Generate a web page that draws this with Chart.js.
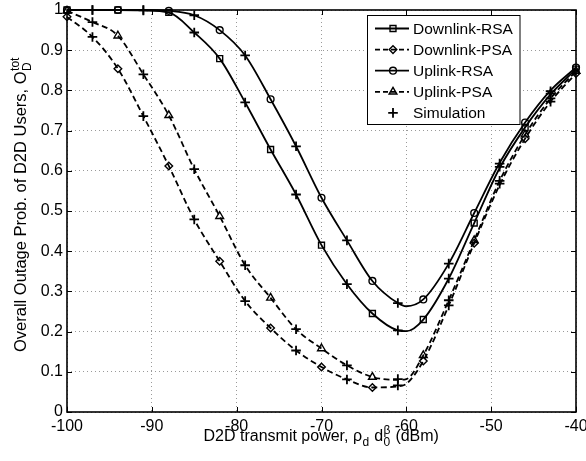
<!DOCTYPE html>
<html>
<head>
<meta charset="utf-8">
<script src="https://cdn.jsdelivr.net/npm/chart.js@4/dist/chart.umd.min.js"></script>
<style>
  html, body { margin: 0; padding: 0; background: #fff; }
  #wrap { width: 586px; height: 461px; }
</style>
</head>
<body>
<div id="wrap"><canvas id="chart_one" width="586" height="461"></canvas></div>
<script>
// transmit power grid of the analytical curves (dBm)
const powerGrid = [-100, -97, -94, -91, -88, -85, -82, -79, -76, -73, -70, -67, -64, -61, -60, -58, -55, -52, -49, -46, -43, -40];
const downlinkRSA = [1.000, 1.000, 1.000, 0.999, 0.994, 0.944, 0.879, 0.770, 0.653, 0.541, 0.415, 0.318, 0.245, 0.203, 0.201, 0.230, 0.332, 0.470, 0.607, 0.708, 0.790, 0.853];
const downlinkPSA = [0.983, 0.933, 0.854, 0.736, 0.612, 0.479, 0.375, 0.276, 0.209, 0.153, 0.112, 0.081, 0.061, 0.064, 0.070, 0.127, 0.265, 0.420, 0.565, 0.680, 0.772, 0.842];
const uplinkRSA = [1.000, 1.000, 1.000, 1.000, 0.998, 0.987, 0.950, 0.887, 0.778, 0.661, 0.533, 0.427, 0.326, 0.271, 0.263, 0.280, 0.369, 0.495, 0.620, 0.720, 0.800, 0.857];
const uplinkPSA = [0.998, 0.970, 0.936, 0.840, 0.738, 0.604, 0.487, 0.365, 0.284, 0.206, 0.158, 0.116, 0.087, 0.080, 0.082, 0.141, 0.278, 0.427, 0.575, 0.690, 0.780, 0.848];

// simulation points
const simPower = [-97, -91, -85, -79, -73, -67, -61, -55, -49, -43];
const simDownlinkRSA = [1.000, 0.999, 0.944, 0.770, 0.541, 0.318, 0.203, 0.332, 0.610, 0.792];
const simDownlinkPSA = [0.933, 0.736, 0.479, 0.276, 0.153, 0.081, 0.066, 0.265, 0.568, 0.772];
const simUplinkRSA = [1.000, 1.000, 0.987, 0.887, 0.661, 0.427, 0.271, 0.369, 0.618, 0.798];
const simUplinkPSA = [0.970, 0.840, 0.604, 0.365, 0.206, 0.116, 0.082, 0.278, 0.575, 0.780];

const xTicks = [-100, -90, -80, -70, -60, -50, -40];
const yTicks = [0, 0.1, 0.2, 0.3, 0.4, 0.5, 0.6, 0.7, 0.8, 0.9, 1];

const FONT = '"Liberation Sans", Arial, Helvetica, sans-serif';
const DASH = [6, 3.5];

function pts(xs, ys) {
  return xs.map((x, i) => ({ x: x, y: ys[i] }));
}
// markers only every 6 dB on the analytical curves
function markerRadius(r) {
  return powerGrid.map(p => ((p + 100) % 6 === 0 ? r : 0));
}

function curve(label, values, style, radius, dashed) {
  return {
    label: label,
    data: pts(powerGrid, values),
    borderColor: '#000',
    borderWidth: 1.8,
    borderDash: dashed ? DASH : [],
    cubicInterpolationMode: 'monotone',
    pointStyle: style,
    pointRadius: markerRadius(radius),
    pointBorderWidth: 1.4,
    pointBorderColor: '#000',
    pointBackgroundColor: 'rgba(0,0,0,0)',
    clip: false,
    fill: false
  };
}
function sim(values) {
  return {
    label: 'Simulation',
    data: pts(simPower, values),
    showLine: false,
    pointStyle: 'cross',
    pointRadius: 4.8,
    pointBorderWidth: 1.8,
    pointBorderColor: '#000',
    clip: false
  };
}

// black box + inward ticks on all four sides
const framePlugin = {
  id: 'frame',
  beforeDatasetsDraw(chart) {
    const { ctx, chartArea: a, scales } = chart;
    ctx.save();
    ctx.strokeStyle = '#000';
    ctx.lineWidth = 1.6;
    ctx.strokeRect(a.left, a.top, a.right - a.left, a.bottom - a.top);
    ctx.lineWidth = 1;
    ctx.beginPath();
    xTicks.forEach(v => {
      const px = Math.round(scales.x.getPixelForValue(v)) + 0.5;
      ctx.moveTo(px, a.bottom); ctx.lineTo(px, a.bottom - 5);
      ctx.moveTo(px, a.top); ctx.lineTo(px, a.top + 5);
    });
    yTicks.forEach(v => {
      const py = Math.round(scales.y.getPixelForValue(v)) + 0.5;
      ctx.moveTo(a.left, py); ctx.lineTo(a.left + 5, py);
      ctx.moveTo(a.right, py); ctx.lineTo(a.right - 5, py);
    });
    ctx.stroke();
    ctx.restore();
  }
};

// text with sub / superscripts
function drawRich(ctx, parts, x, baseline, size) {
  ctx.textAlign = 'left';
  ctx.textBaseline = 'alphabetic';
  const small = Math.round(size * 0.72);
  parts.forEach(p => {
    ctx.font = size + 'px ' + FONT;
    ctx.fillText(p.text, x, baseline);
    x += ctx.measureText(p.text).width + 0.5;
    ctx.font = small + 'px ' + FONT;
    let adv = 0;
    if (p.sup) { ctx.fillText(p.sup, x, baseline - 7); adv = ctx.measureText(p.sup).width; }
    if (p.sub) { ctx.fillText(p.sub, x, baseline + 5); adv = Math.max(adv, ctx.measureText(p.sub).width); }
    x += adv + (p.sub || p.sup ? 0.5 : 0);
  });
  return x;
}
function richWidth(ctx, parts, size) {
  ctx.save();
  ctx.globalAlpha = 0;
  const w = drawRich(ctx, parts, 0, -100, size);
  ctx.restore();
  return w;
}

const xTitle = [
  { text: 'D2D transmit power, ρ', sub: 'd' },
  { text: ' d', sup: 'β', sub: '0' },
  { text: ' (dBm)' }
];
const yTitle = [{ text: 'Overall Outage Prob. of D2D Users, O', sub: 'D', sup: 'tot' }];

const titlePlugin = {
  id: 'titles',
  afterDraw(chart) {
    const { ctx, chartArea: a } = chart;
    ctx.save();
    ctx.fillStyle = '#000';
    const w = richWidth(ctx, xTitle, 16);
    drawRich(ctx, xTitle, (a.left + a.right) / 2 - w / 2, 441, 16);
    ctx.translate(26, 352);
    ctx.rotate(-Math.PI / 2);
    drawRich(ctx, yTitle, 0, 0, 16.5);
    ctx.restore();
  }
};

function marker(ctx, style, x, y, r) {
  ctx.beginPath();
  if (style === 'rect') {
    const s = r / Math.SQRT2;
    ctx.rect(x - s, y - s, 2 * s, 2 * s);
  } else if (style === 'rectRot') {
    ctx.moveTo(x, y - r); ctx.lineTo(x + r, y); ctx.lineTo(x, y + r); ctx.lineTo(x - r, y); ctx.closePath();
  } else if (style === 'circle') {
    ctx.arc(x, y, r, 0, Math.PI * 2);
  } else if (style === 'triangle') {
    const s = r * Math.sqrt(3) / 2;
    ctx.moveTo(x, y - r); ctx.lineTo(x + s, y + r / 2); ctx.lineTo(x - s, y + r / 2); ctx.closePath();
  } else if (style === 'cross') {
    ctx.moveTo(x - r, y); ctx.lineTo(x + r, y);
    ctx.moveTo(x, y - r); ctx.lineTo(x, y + r);
  }
  ctx.stroke();
}

const legendItems = [
  { label: 'Downlink-RSA', style: 'rect', r: 4.2, dashed: false, line: true },
  { label: 'Downlink-PSA', style: 'rectRot', r: 3.8, dashed: true, line: true },
  { label: 'Uplink-RSA', style: 'circle', r: 3.4, dashed: false, line: true },
  { label: 'Uplink-PSA', style: 'triangle', r: 4.5, dashed: true, line: true },
  { label: 'Simulation', style: 'cross', r: 4.8, dashed: false, line: false }
];

const legendPlugin = {
  id: 'boxLegend',
  afterDraw(chart) {
    const ctx = chart.ctx;
    const left = 367.5, top = 15.5, w = 152.5, h = 109;
    ctx.save();
    ctx.fillStyle = '#fff';
    ctx.fillRect(left, top, w, h);
    ctx.strokeStyle = '#000';
    ctx.lineWidth = 1;
    ctx.strokeRect(left, top, w, h);
    legendItems.forEach((it, i) => {
      const y = 28.5 + i * 21.1;
      ctx.strokeStyle = '#000';
      if (it.line) {
        ctx.lineWidth = 1.8;
        ctx.setLineDash(it.dashed ? [5, 3] : []);
        ctx.beginPath(); ctx.moveTo(375, y); ctx.lineTo(409, y); ctx.stroke();
      }
      ctx.setLineDash([]);
      ctx.lineWidth = it.style === 'cross' ? 1.8 : 1.4;
      marker(ctx, it.style, 393, y, it.r);
      ctx.fillStyle = '#000';
      ctx.font = '15.5px ' + FONT;
      ctx.textAlign = 'left';
      ctx.textBaseline = 'middle';
      ctx.fillText(it.label, 413, y + 1);
    });
    ctx.restore();
  }
};

new Chart(document.getElementById('chart_one'), {
  type: 'line',
  data: {
    datasets: [
      curve('Downlink-RSA', downlinkRSA, 'rect', 4.2, false),
      curve('Downlink-PSA', downlinkPSA, 'rectRot', 3.8, true),
      curve('Uplink-RSA', uplinkRSA, 'circle', 3.4, false),
      curve('Uplink-PSA', uplinkPSA, 'triangle', 4.5, true),
      sim(simDownlinkRSA),
      sim(simDownlinkPSA),
      sim(simUplinkRSA),
      sim(simUplinkPSA)
    ]
  },
  options: {
    responsive: false,
    animation: false,
    events: [],
    devicePixelRatio: 1,
    layout: { padding: { top: 10, right: 10, left: 0, bottom: 0 } },
    plugins: { legend: { display: false }, tooltip: { enabled: false } },
    scales: {
      x: {
        type: 'linear',
        min: -100, max: -40,
        afterBuildTicks: s => { s.ticks = xTicks.map(v => ({ value: v })); },
        afterFit: s => { s.height = 49; s.paddingLeft = 0; s.paddingRight = 0; },
        ticks: { color: '#000', font: { family: FONT, size: 16 }, padding: 5, maxRotation: 0, autoSkip: false },
        grid: { color: '#9a9a9a', lineWidth: 1, drawTicks: false },
        border: { display: false, dash: [1, 3] }
      },
      y: {
        type: 'linear',
        min: 0, max: 1,
        afterBuildTicks: s => { s.ticks = yTicks.map(v => ({ value: v })); },
        afterFit: s => { s.width = 67; s.paddingTop = 0; s.paddingBottom = 0; },
        ticks: { color: '#000', font: { family: FONT, size: 16 }, padding: 4, autoSkip: false,
                 callback: v => String(v) },
        grid: { color: '#9a9a9a', lineWidth: 1, drawTicks: false },
        border: { display: false, dash: [1, 3] }
      }
    }
  },
  plugins: [framePlugin, titlePlugin, legendPlugin]
});
</script>
</body>
</html>
